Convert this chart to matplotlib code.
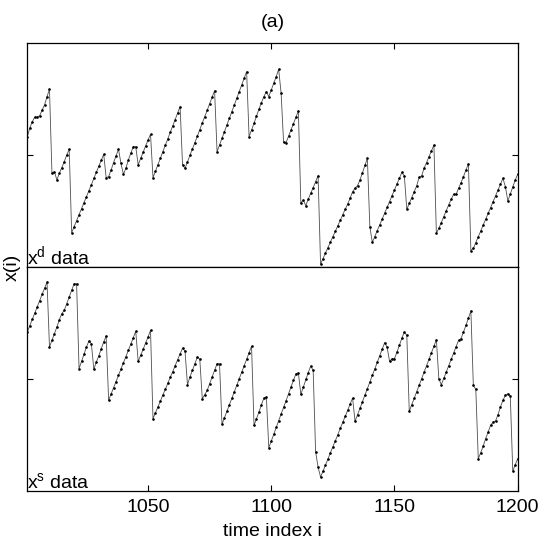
import numpy as np
import matplotlib
matplotlib.use("Agg")
import matplotlib.pyplot as plt

plt.rcParams['font.family'] = ['Liberation Sans', 'DejaVu Sans']
plt.rcParams['mathtext.fontset'] = 'custom'
plt.rcParams['mathtext.rm'] = 'Liberation Sans'
plt.rcParams['mathtext.it'] = 'Liberation Sans'

# time index
time_index = np.arange(1001, 1201)

# x^d data (arbitrary units)
xd_data = [
    391, 416, 436, 449, 449, 453, 471, 486, 511, 533,
    281, 286, 261, 281, 298, 316, 336, 353, 103, 121,
    139, 157, 175, 193, 211, 229, 247, 266, 284, 302,
    320, 338, 268, 271, 291, 313, 333, 353, 311, 278,
    296, 321, 341, 361, 361, 306, 326, 344, 363, 381,
    398, 268, 287, 307, 326, 346, 365, 384, 404, 423,
    442, 462, 481, 306, 296, 315, 335, 354, 373, 393,
    412, 432, 451, 470, 490, 509, 529, 346, 366, 386,
    406, 426, 446, 466, 486, 506, 526, 546, 566, 586,
    391, 411, 431, 453, 473, 493, 511, 526, 511, 531,
    551, 571, 593, 521, 374, 373, 392, 411, 430, 449,
    468, 191, 201, 184, 203, 221, 238, 256, 274, 9,
    25, 42, 58, 75, 91, 107, 124, 140, 157, 173,
    189, 206, 226, 236, 244, 261, 283, 306, 326, 121,
    74, 91, 109, 126, 144, 161, 179, 196, 214, 231,
    249, 266, 284, 273, 173, 191, 208, 226, 243, 269,
    273, 296, 313, 331, 348, 366, 101, 116, 133, 151,
    169, 186, 203, 218, 218, 236, 253, 271, 291, 309,
    49, 56, 73, 91, 108, 126, 143, 161, 178, 196,
    213, 231, 248, 266, 241, 198, 219, 241, 261, 278,
]

# x^s data
xs_data = [
    476, 495, 514, 532, 551, 570, 589, 607, 626, 431,
    451, 471, 491, 513, 531, 541, 561, 581, 601, 621,
    621, 366, 388, 411, 431, 449, 441, 364, 386, 404,
    426, 446, 464, 271, 290, 309, 327, 346, 365, 384,
    402, 421, 440, 459, 478, 388, 406, 424, 443, 461,
    481, 216, 234, 251, 269, 287, 304, 322, 340, 357,
    375, 393, 410, 428, 418, 318, 341, 361, 381, 401,
    394, 276, 288, 301, 321, 341, 361, 381, 381, 199,
    219, 238, 258, 277, 297, 316, 336, 355, 375, 394,
    414, 433, 196, 216, 236, 258, 278, 281, 129, 149,
    169, 190, 210, 230, 250, 270, 291, 311, 331, 351,
    353, 289, 311, 334, 354, 374, 361, 116, 71, 41,
    59, 77, 95, 114, 132, 150, 168, 187, 205, 223,
    241, 260, 278, 208, 228, 247, 267, 287, 306, 326,
    346, 365, 385, 405, 424, 444, 431, 388, 396, 396,
    416, 436, 458, 476, 466, 238, 258, 277, 297, 316,
    336, 355, 375, 394, 414, 433, 453, 336, 318, 337,
    356, 375, 394, 413, 432, 451, 456, 476, 496, 518,
    539, 316, 304, 96, 114, 134, 156, 176, 196, 206,
    209, 228, 251, 271, 286, 291, 284, 59, 78, 96,
]

x_ticks = [1050, 1100, 1150, 1200]
y_tick = [335]

fig = plt.figure(figsize=(5.45, 5.45), dpi=100)
L, W, H = 0.0501, 0.8998, 0.4105
ax_top = fig.add_axes([L, 0.5101, W, H])
ax_bot = fig.add_axes([L, 0.0996, W, H])

FS = 14
for ax, data, label in [(ax_top, xd_data, r'x$^{\mathrm{d}}$ data'),
                        (ax_bot, xs_data, r'x$^{\mathrm{s}}$ data')]:
    ax.plot(time_index, data, color='0.3', linewidth=0.6,
            marker='.', markersize=1.8, markerfacecolor='black',
            markeredgecolor='black')
    ax.set_xlim(1001, 1200)
    ax.set_ylim(0, 671)
    ax.set_xticks(x_ticks)
    ax.set_yticks(y_tick)
    ax.set_yticklabels([])
    ax.tick_params(direction='in', length=4, width=0.8, right=True,
                   labelsize=FS, pad=6)
    for s in ax.spines.values():
        s.set_linewidth(0.9)
    ax.text(0.0, 0.014, label, transform=ax.transAxes, fontsize=FS,
            ha='left', va='baseline')

ax_top.tick_params(axis='x', top=True, bottom=False, labelbottom=False)
ax_bot.tick_params(axis='x', top=False, bottom=True)
ax_bot.set_xticklabels([str(t) for t in x_ticks])

fig.text(0.5004, 0.9587, '(a)', ha='center', va='center', fontsize=FS)
fig.text(0.5, 0.025, 'time index i', ha='center', va='center', fontsize=FS)
fig.text(0.022, 0.51, 'x(i)', ha='center', va='center', rotation=90, fontsize=FS)

fig.savefig('out.png', dpi=100)
